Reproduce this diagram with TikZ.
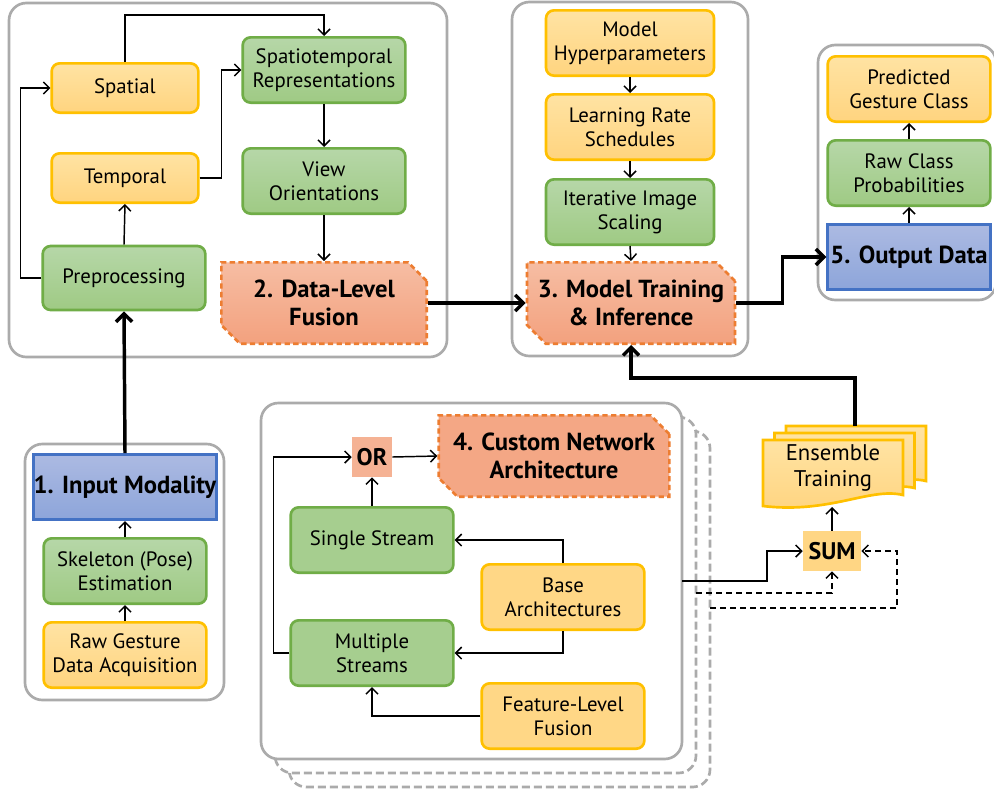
\documentclass[tikz,border=0pt]{standalone}
\usepackage{fontspec}
\setmainfont{PT Sans}
\usetikzlibrary{shapes.misc,arrows.meta}

\definecolor{ytop}{HTML}{FFE3A3}
\definecolor{ybot}{HTML}{FFD47F}
\definecolor{yline}{HTML}{FFC000}
\definecolor{gtop}{HTML}{B6D7A8}
\definecolor{gbot}{HTML}{9FCA84}
\definecolor{gline}{HTML}{70AD47}
\definecolor{btop}{HTML}{ACBAE2}
\definecolor{bbot}{HTML}{8DA5DA}
\definecolor{bline}{HTML}{4472C4}
\definecolor{otop}{HTML}{F6BDA3}
\definecolor{obot}{HTML}{F3A17E}
\definecolor{oline}{HTML}{ED7D31}
\definecolor{grp}{HTML}{ABABAB}

\tikzset{
  box/.style={rounded corners=6pt, line width=2pt, align=center, inner sep=0pt,
    minimum width=122pt, minimum height=49pt, font=\fontsize{15.6}{18}\selectfont},
  ybox/.style={box, draw=yline, top color=ytop, bottom color=ybot},
  gbox/.style={box, draw=gline, top color=gtop, bottom color=gbot},
  bbox/.style={box, rounded corners=0pt, draw=bline, top color=btop, bottom color=bbot,
    font=\fontsize{18.5}{21}\selectfont\bfseries},
  obox/.style={chamfered rectangle, chamfered rectangle corners={north east,south west},
    chamfered rectangle xsep=7pt, chamfered rectangle ysep=7pt,
    draw=oline, line width=2pt, dash pattern=on 4pt off 2.5pt, top color=otop, bottom color=obot,
    align=center, inner sep=0pt, minimum height=61pt, font=\fontsize{18.5}{21}\selectfont\bfseries},
  gate/.style={inner sep=0pt, minimum height=30pt, font=\fontsize{18}{20}\selectfont\bfseries},
  group/.style={draw=grp, line width=2pt, rounded corners=13pt, fill=white},
  copy/.style={group, dash pattern=on 6pt off 3pt},
  arr/.style={line width=1.1pt, -{Straight Barb[length=4.5pt,width=9pt]}},
  dashline/.style={dash pattern=on 4.5pt off 3pt},
  big/.style={line width=2.6pt, -{Straight Barb[length=6pt,width=12pt]}},
  doc/.style={draw=yline, line width=2pt, top color=ytop, bottom color=ybot}
}

\begin{document}
\begin{tikzpicture}[x=0.75pt, y=-0.75pt]
  \useasboundingbox (0,0) rectangle (994,793);

  % groups
  \draw[group] (9,3) rectangle (447,357);
  \draw[group] (512,2) rectangle (748,356);
  \draw[group] (818,45) rectangle (996,300);
  \draw[group] (25,444) rectangle (224,700);
  \draw[copy] (289,431) rectangle (710,787);
  \draw[copy] (275,417) rectangle (696,773);
  \draw[group] (261,403) rectangle (682,759);

  % data level
  \node[ybox, minimum width=110pt, minimum height=37pt] (spa) at (125,88) {Spatial};
  \node[ybox, minimum width=110pt, minimum height=37pt] (tem) at (125,178) {Temporal};
  \node[gbox, minimum height=48pt] (pre) at (124,278) {Preprocessing};
  \node[gbox] (st) at (324,70) {Spatiotemporal\\Representations};
  \node[gbox] (vo) at (324,181) {View\\Orientations};
  \node[obox, minimum width=154pt] (dlf) at (324,303) {2. Data-Level\\Fusion};

  % training
  \node[ybox, minimum width=126pt] (hyp) at (630,43) {Model\\Hyperparameters};
  \node[ybox, minimum width=126pt] (lrs) at (630,127) {Learning Rate\\Schedules};
  \node[gbox, minimum width=126pt] (iis) at (630,212) {Iterative Image\\Scaling};
  \node[obox, minimum width=156pt] (mti) at (631,303) {3. Model Training\\\& Inference};

  % output
  \node[ybox] (pgc) at (909,89) {Predicted\\Gesture Class};
  \node[gbox] (rcp) at (909,173) {Raw Class\\Probabilities};
  \node[bbox] (out) at (909,257) {5. Output Data};

  % input
  \node[bbox, minimum width=136pt] (inp) at (125,487) {1. Input Modality};
  \node[gbox] (ske) at (125,571) {Skeleton (Pose)\\Estimation};
  \node[ybox] (raw) at (125,655) {Raw Gesture\\Data Acquisition};

  % network
  \node[gate, fill=otop!60!obot, minimum width=30pt] (or) at (372,457) {OR};
  \node[obox, minimum width=173pt, top color=obot!80!otop, bottom color=obot!80!otop] (cna) at (554,456) {4. Custom Network\\Architecture};
  \node[gbox, top color=gbot!70!gtop, bottom color=gbot!70!gtop] (ss) at (372,540) {Single Stream};
  \node[ybox, top color=ybot!80!ytop, bottom color=ybot!80!ytop] (base) at (563,597) {Base\\Architectures};
  \node[gbox, top color=gbot!70!gtop, bottom color=gbot!70!gtop] (ms) at (372,653) {Multiple\\Streams};
  \node[ybox, top color=ybot!80!ytop, bottom color=ybot!80!ytop] (flf) at (563,716) {Feature-Level\\Fusion};

  % ensemble
  \foreach \dx/\dy in {23/-14, 11.5/-7, 0/0}
    \draw[doc, shift={(\dx,\dy)}] (763,440) -- (903,440) -- (903,495)
      .. controls (870,487) and (830,514) .. (763,506) -- cycle;
  \node[font=\fontsize{17}{20}\selectfont, align=center] (ens) at (833,468) {Ensemble\\Training};
  \node[gate, fill=ybot!85!ytop, minimum width=43.5pt] (sum) at (832,551) {SUM};
  \coordinate (enstop) at (855,426);
  \coordinate (ensbot) at (832,507);
  \coordinate (g4a) at (682,581);
  \coordinate (g4b) at (696,593);
  \coordinate (g4c) at (710,608);

  % connectors
  \draw[arr] (spa.north) -- ++(0,-47) -| (st.north);
  \draw[arr] (tem.east) -- ++(22,0) |- (st.west);
  \draw[arr] (pre.west) -- ++(-21,0) |- (spa.west);
  \draw[arr] (pre.north) -- (tem.south);
  \draw[arr] (st.south) -- (vo.north);
  \draw[arr] (vo.south) -- (dlf.north);
  \draw[big] (inp.north) -- (pre.south);
  \draw[big] (dlf.east) -- (mti.west);

  \draw[arr] (hyp.south) -- (lrs.north);
  \draw[arr] (lrs.south) -- (iis.north);
  \draw[arr] (iis.south) -- (mti.north);
  \draw[big] (mti.east) -- ++(46,0) |- (out.west);

  \draw[arr] (out.north) -- (rcp.south);
  \draw[arr] (rcp.north) -- (pgc.south);

  \draw[arr] (raw.north) -- (ske.south);
  \draw[arr] (ske.north) -- (inp.south);

  \draw[arr] (ss.north) -- (or.south);
  \draw[arr] (or.east) -- (cna.west);
  \draw[arr] (ms.west) -- ++(-16,0) |- (or.west);
  \draw[arr] (base.north) |- (ss.east);
  \draw[arr] (base.south) |- (ms.east);
  \draw[arr] (flf.west) -| (ms.south);

  \draw[arr] (g4a) -- ++(85,0) |- (sum.west);
  \draw[arr, dashline] (g4b) -| (sum.south);
  \draw[arr, dashline] (g4c) -- ++(187,0) |- (sum.east);
  \draw[arr] (sum.north) -- (ensbot);
  \draw[big] (enstop) -- ++(0,-48) -| (mti.south);
\end{tikzpicture}
\end{document}
